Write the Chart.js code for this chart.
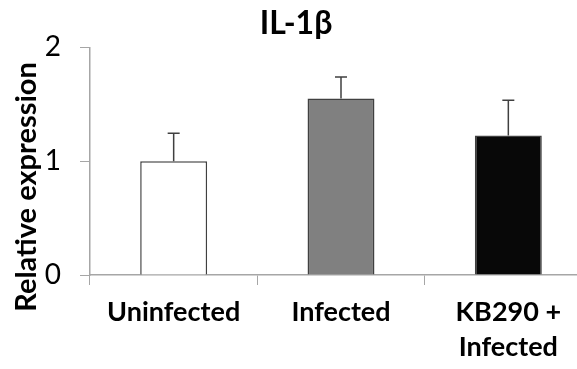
<!DOCTYPE html>
<html>
<head>
<meta charset="utf-8">
<script src="https://cdn.jsdelivr.net/npm/chart.js@4.4.0/dist/chart.umd.min.js"></script>
<style>
  html, body { margin: 0; padding: 0; background: #fff; overflow: hidden; }
  #wrap { width: 596px; height: 369px; }
</style>
</head>
<body>
<div id="wrap"><canvas id="il1bChart" width="596" height="369"></canvas></div>
<script>
// IL-1β relative expression
const groups = [['Uninfected'], ['Infected'], ['KB290 +', 'Infected']];
const expression = [1.0, 1.55, 1.225];
const errors = [0.245, 0.19, 0.31];
const barColors = ['#ffffff', '#808080', '#080808'];
const yTicks = [0, 1, 2];

const FONT = 'Lato, "Open Sans", sans-serif';
const AXIS_GRAY = '#a6a6a6';

// error bars (upper only), positioned with the y scale
const errorBars = {
  id: 'errorBars',
  afterDatasetsDraw(chart) {
    const ctx = chart.ctx;
    const y = chart.scales.y;
    const meta = chart.getDatasetMeta(0);
    ctx.save();
    ctx.strokeStyle = '#404040';
    ctx.lineWidth = 1.5;
    meta.data.forEach((bar, i) => {
      const top = y.getPixelForValue(expression[i]);
      const hi = y.getPixelForValue(expression[i] + errors[i]);
      ctx.beginPath();
      ctx.moveTo(bar.x, top);
      ctx.lineTo(bar.x, hi);
      ctx.moveTo(bar.x - 6, hi);
      ctx.lineTo(bar.x + 6, hi);
      ctx.stroke();
    });
    ctx.restore();
  }
};

// y axis title, sits a bit lower than the plot centre like the original
const yTitle = {
  id: 'yTitle',
  afterDraw(chart) {
    const ctx = chart.ctx;
    ctx.save();
    ctx.translate(27, 187);
    ctx.rotate(-Math.PI / 2);
    ctx.font = 'bold 29px ' + FONT;
    ctx.fillStyle = '#000';
    ctx.textAlign = 'center';
    ctx.textBaseline = 'middle';
    ctx.fillText('Relative expression', 0, 0);
    ctx.restore();
  }
};

new Chart(document.getElementById('il1bChart'), {
  type: 'bar',
  data: {
    labels: groups,
    datasets: [{
      data: expression,
      backgroundColor: barColors,
      borderColor: '#404040',
      borderWidth: 1.5,
      categoryPercentage: 1,
      barPercentage: 0.4
    }]
  },
  options: {
    responsive: false,
    animation: false,
    layout: { padding: { left: 0, right: 4, top: 0, bottom: 0 } },
    plugins: {
      legend: { display: false },
      tooltip: { enabled: false },
      title: {
        display: true,
        text: 'IL-1β',
        color: '#000',
        font: { family: FONT, size: 32, weight: 'bold' },
        padding: { top: 4, bottom: 5 }
      }
    },
    scales: {
      x: {
        grid: { drawOnChartArea: false, tickLength: 10, color: AXIS_GRAY },
        border: { color: AXIS_GRAY, width: 1.5 },
        ticks: {
          color: '#000',
          font: { family: FONT, size: 27, weight: 'bold', lineHeight: 1.3 },
          maxRotation: 0,
          autoSkip: false,
          padding: 10
        },
        afterFit(s) { s.height = 94; }
      },
      y: {
        min: 0,
        max: 2,
        afterBuildTicks(s) { s.ticks = yTicks.map(v => ({ value: v })); },
        grid: { drawOnChartArea: false, tickLength: 10, color: AXIS_GRAY },
        border: { color: AXIS_GRAY, width: 1.5 },
        ticks: { color: '#000', font: { family: FONT, size: 28 }, padding: 19 },
        afterFit(s) { s.width = 90; }
      }
    }
  },
  plugins: [errorBars, yTitle]
});
</script>
</body>
</html>
